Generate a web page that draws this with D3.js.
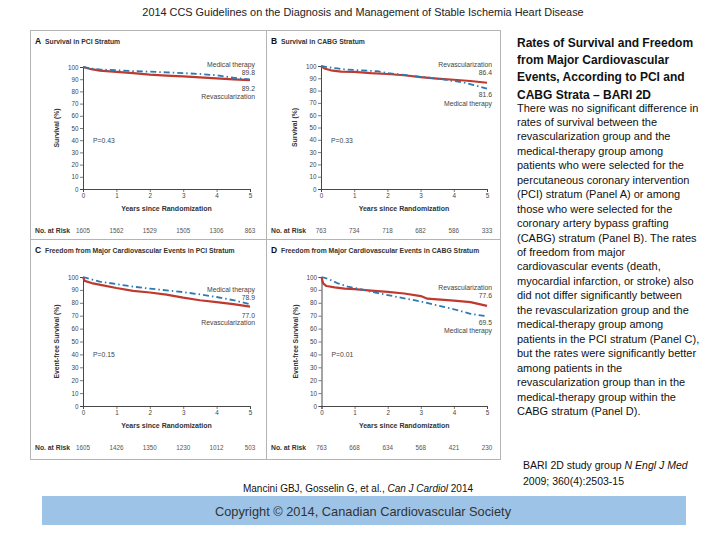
<!DOCTYPE html>
<html>
<head>
<meta charset="utf-8">
<script src="https://cdn.jsdelivr.net/npm/d3@7/dist/d3.min.js"></script>
<style>
  html, body { margin: 0; padding: 0; background: #ffffff; }
  svg { display: block; }
</style>
</head>
<body>
<svg id="chart" width="720" height="540"></svg>
<script>
// ---------------- DATA ----------------
const yearTicks = [0, 1, 2, 3, 4, 5];
const pctTicks = [0, 10, 20, 30, 40, 50, 60, 70, 80, 90, 100];

const atRiskA = [1605, 1562, 1529, 1505, 1306, 863];
const atRiskB = [763, 734, 718, 682, 586, 333];
const atRiskC = [1605, 1426, 1350, 1230, 1012, 503];
const atRiskD = [763, 668, 634, 568, 421, 230];

// [years, percent]
const revascA = [[0,100],[0.25,98.2],[0.5,97],[1,96],[1.5,95],[2,93.8],[2.5,93],[3,92.3],[3.5,91.5],[4,90.7],[4.5,89.9],[5,89.2]];
const medA    = [[0,100],[0.25,98.8],[0.5,98],[1,97.3],[1.5,96.6],[2,96.2],[2.5,95.6],[3,95],[3.5,94.3],[4,93.2],[4.5,91.2],[5,89.8]];
const revascB = [[0,100],[0.1,98],[0.3,96.5],[0.6,95.5],[1,95.2],[1.5,94.2],[2,93.5],[2.5,92.5],[3,91],[3.5,89.8],[4,88.8],[4.5,87.8],[5,86.4]];
const medB    = [[0,100],[0.2,99],[0.5,98],[0.8,97],[1.2,96.5],[1.7,95.8],[2,94.2],[2.5,92.8],[3,91.2],[3.5,89.8],[4,87.8],[4.3,86.5],[4.6,84.5],[5,81.6]];
const revascC = [[0,100],[0.05,97],[0.3,95],[0.6,93.5],[1,91.5],[1.5,89.3],[2,88],[2.5,86.3],[3,84],[3.5,82],[4,80.5],[4.5,79],[5,77]];
const medC    = [[0,100],[0.2,98.5],[0.5,96.5],[1,94.5],[1.5,92.5],[2,91],[2.5,89.6],[3,88.3],[3.5,86.5],[4,84.5],[4.5,82],[5,78.9]];
const revascD = [[0,100],[0.05,95],[0.15,93],[0.4,92],[0.7,91],[1,90.6],[1.5,89.5],[2,88.5],[2.5,87.2],[3,85.2],[3.2,83.2],[3.6,82.5],[4,81.7],[4.5,80.5],[5,77.6]];
const medD    = [[0,100],[0.2,98.5],[0.5,95],[0.8,92.5],[1.2,90.5],[1.5,88.5],[2,86],[2.5,83.5],[3,81],[3.5,78],[4,75],[4.5,71.5],[5,69.5]];

const endLabelsA = ["89.8", "89.2"];
const endLabelsB = ["86.4", "81.6"];
const endLabelsC = ["78.9", "77.0"];
const endLabelsD = ["77.6", "69.5"];
const pValues = ["P=0.43", "P=0.33", "P=0.15", "P=0.01"];

const mainTitle = "2014 CCS Guidelines on the Diagnosis and Management of Stable Ischemia Heart Disease";
const sideTitle = ["Rates of Survival and Freedom", "from Major Cardiovascular", "Events, According to PCI and", "CABG Strata \u2013 BARI 2D"];
const sideBody = [
  "There was no significant difference in",
  "rates of survival between the",
  "revascularization group and the",
  "medical-therapy group among",
  "patients who were selected for the",
  "percutaneous coronary intervention",
  "(PCI) stratum (Panel A) or among",
  "those who were selected for the",
  "coronary artery bypass grafting",
  "(CABG) stratum (Panel B). The rates",
  "of freedom from major",
  "cardiovascular events (death,",
  "myocardial infarction, or stroke) also",
  "did not differ significantly between",
  "the revascularization group and the",
  "medical-therapy group among",
  "patients in the PCI stratum (Panel C),",
  "but the rates were significantly better",
  "among patients in the",
  "revascularization group than in the",
  "medical-therapy group within the",
  "CABG stratum (Panel D)."
];

// ---------------- DRAW ----------------
const svg = d3.select("#chart");
const FONT = "'Liberation Sans', Arial, sans-serif";
const RED = "#c0392f";
const BLUE = "#2b7bb3";
const BOX = "#b4b4b4";

// page title
svg.append("text").attr("x", 363).attr("y", 16).attr("text-anchor", "middle")
  .attr("font-family", FONT).attr("font-size", 10.9).attr("fill", "#222")
  .text(mainTitle);

// panel frame
svg.append("rect").attr("x", 30.5).attr("y", 30.5).attr("width", 470).attr("height", 429)
  .attr("fill", "none").attr("stroke", BOX).attr("stroke-width", 1);
svg.append("line").attr("x1", 266.5).attr("x2", 266.5).attr("y1", 30).attr("y2", 460)
  .attr("stroke", BOX);
svg.append("line").attr("x1", 30).attr("x2", 501).attr("y1", 239.5).attr("y2", 239.5)
  .attr("stroke", BOX);

const panels = [
  { letter: "A", title: "Survival in PCI Stratum", ytitle: "Survival (%)", rev: revascA, med: medA, risk: atRiskA, ends: endLabelsA, p: pValues[0],
    x0: 83, x1: 250, y0: 189, y1: 67, top: 30, left: 30, medAbove: true },
  { letter: "B", title: "Survival in CABG Stratum", ytitle: "Survival (%)", rev: revascB, med: medB, risk: atRiskB, ends: endLabelsB, p: pValues[1],
    x0: 321, x1: 487, y0: 189, y1: 66, top: 30, left: 266, medAbove: false },
  { letter: "C", title: "Freedom from Major Cardiovascular Events in PCI Stratum", ytitle: "Event-free Survival (%)", rev: revascC, med: medC, risk: atRiskC, ends: endLabelsC, p: pValues[2],
    x0: 83, x1: 250, y0: 406, y1: 277, top: 239, left: 30, medAbove: true },
  { letter: "D", title: "Freedom from Major Cardiovascular Events in CABG Stratum", ytitle: "Event-free Survival (%)", rev: revascD, med: medD, risk: atRiskD, ends: endLabelsD, p: pValues[3],
    x0: 321.5, x1: 487, y0: 406, y1: 277, top: 239, left: 266, medAbove: false }
];

panels.forEach(pn => {
  const g = svg.append("g");
  const x = d3.scaleLinear().domain([0, 5]).range([pn.x0, pn.x1]);
  const y = d3.scaleLinear().domain([0, 100]).range([pn.y0, pn.y1]);

  // panel title
  g.append("text").attr("x", pn.left + 5).attr("y", pn.top + 14)
    .attr("font-family", FONT).attr("font-size", 8.5).attr("font-weight", "bold").attr("fill", "#111")
    .text(pn.letter);
  g.append("text").attr("x", pn.left + 15).attr("y", pn.top + 14)
    .attr("font-family", FONT).attr("font-size", 6.8).attr("font-weight", "bold").attr("fill", "#333")
    .text(pn.title);

  // axes
  const yAxis = d3.axisLeft(y).tickValues(pctTicks).tickSize(3).tickPadding(1.5).tickFormat(d3.format("d"));
  const gy = g.append("g").attr("transform", `translate(${pn.x0},0)`).call(yAxis);
  const xAxis = d3.axisBottom(x).tickValues(yearTicks).tickSize(3).tickPadding(2).tickFormat(d3.format("d"));
  const gx = g.append("g").attr("transform", `translate(0,${pn.y0})`).call(xAxis);
  [gx, gy].forEach(a => {
    a.select(".domain").attr("stroke", "#333").attr("stroke-width", 0.9);
    a.selectAll(".tick line").attr("stroke", "#444").attr("stroke-width", 0.7);
    a.selectAll(".tick text").attr("font-family", FONT).attr("font-size", 6.3).attr("fill", "#444");
  });

  // axis titles
  g.append("text").attr("x", (pn.x0 + pn.x1) / 2).attr("y", pn.y0 + 22).attr("text-anchor", "middle")
    .attr("font-family", FONT).attr("font-size", 7).attr("font-weight", "bold").attr("fill", "#333")
    .text("Years since Randomization");
  g.append("text")
    .attr("transform", `translate(${pn.x0 - 24},${(pn.y0 + pn.y1) / 2}) rotate(-90)`)
    .attr("text-anchor", "middle")
    .attr("font-family", FONT).attr("font-size", 6.8).attr("font-weight", "bold").attr("fill", "#333")
    .text(pn.ytitle);

  // curves
  const line = d3.line().x(d => x(d[0])).y(d => y(d[1]));
  g.append("path").datum(pn.rev).attr("d", line).attr("fill", "none")
    .attr("stroke", RED).attr("stroke-width", 2.2).attr("stroke-linejoin", "round");
  g.append("path").datum(pn.med).attr("d", line).attr("fill", "none")
    .attr("stroke", BLUE).attr("stroke-width", 1.8).attr("stroke-dasharray", "6,3,1.5,3");

  // end labels
  const lab = (txt, yy) => g.append("text").attr("x", pn.x1 + 5).attr("y", yy).attr("text-anchor", "end")
    .attr("font-family", FONT).attr("font-size", 6.8).attr("fill", "#444").text(txt);
  const revEnd = pn.rev[pn.rev.length - 1][1];
  const medEnd = pn.med[pn.med.length - 1][1];
  if (pn.medAbove) {
    lab("Medical therapy", y(medEnd) - 12);
    lab(pn.ends[0], y(medEnd) - 4);
    lab(pn.ends[1], y(revEnd) + 11);
    lab("Revascularization", y(revEnd) + 18.5);
  } else {
    lab("Revascularization", y(revEnd) - 16);
    lab(pn.ends[0], y(revEnd) - 7.5);
    lab(pn.ends[1], y(medEnd) + 8.5);
    lab("Medical therapy", y(medEnd) + 17);
  }

  // P value
  g.append("text").attr("x", x(0) + 10).attr("y", y(40) + 3)
    .attr("font-family", FONT).attr("font-size", 6.8).attr("fill", "#444").text(pn.p);

  // number at risk
  const ry = pn.y0 + 44;
  g.append("text").attr("x", pn.left + 5).attr("y", ry)
    .attr("font-family", FONT).attr("font-size", 6.8).attr("font-weight", "bold").attr("fill", "#333")
    .text("No. at Risk");
  g.selectAll(".risk").data(pn.risk).enter().append("text")
    .attr("x", (d, i) => x(yearTicks[i])).attr("y", ry).attr("text-anchor", "middle")
    .attr("font-family", FONT).attr("font-size", 6.3).attr("fill", "#555")
    .text(d => d);
});

// side text
const side = svg.append("g");
side.selectAll(".st").data(sideTitle).enter().append("text")
  .attr("x", 517).attr("y", (d, i) => 47 + i * 17.2)
  .attr("font-family", FONT).attr("font-size", 12).attr("font-weight", "bold").attr("fill", "#111")
  .text(d => d);
side.selectAll(".sb").data(sideBody).enter().append("text")
  .attr("x", 517).attr("y", (d, i) => 111.5 + i * 14.45)
  .attr("font-family", FONT).attr("font-size", 11).attr("fill", "#111")
  .text(d => d);

// citations
svg.append("text").attr("x", 523).attr("y", 469)
  .attr("font-family", FONT).attr("font-size", 10.5).attr("fill", "#111")
  .call(t => {
    t.append("tspan").text("BARI 2D study group ");
    t.append("tspan").attr("font-style", "italic").text("N Engl J Med");
  });
svg.append("text").attr("x", 523).attr("y", 485)
  .attr("font-family", FONT).attr("font-size", 10.5).attr("fill", "#111")
  .text("2009; 360(4):2503-15");
svg.append("text").attr("x", 358).attr("y", 492).attr("text-anchor", "middle")
  .attr("font-family", FONT).attr("font-size", 10).attr("fill", "#111")
  .call(t => {
    t.append("tspan").text("Mancini GBJ, Gosselin G, et al., ");
    t.append("tspan").attr("font-style", "italic").text("Can J Cardiol");
    t.append("tspan").text(" 2014");
  });

// copyright band
svg.append("rect").attr("x", 42).attr("y", 496).attr("width", 644).attr("height", 29).attr("fill", "#9dc3e6");
svg.append("text").attr("x", 363).attr("y", 516).attr("text-anchor", "middle")
  .attr("font-family", FONT).attr("font-size", 12.8).attr("fill", "#333")
  .text("Copyright \u00a9 2014, Canadian Cardiovascular Society");
</script>
</body>
</html>
